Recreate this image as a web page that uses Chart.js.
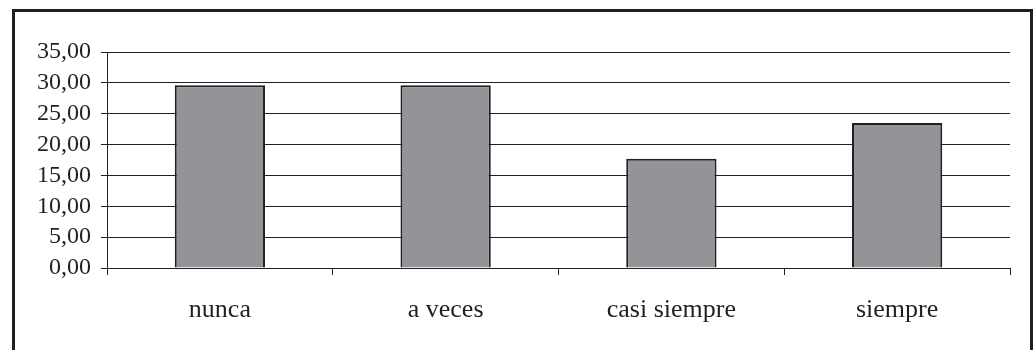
<!DOCTYPE html>
<html>
<head>
<meta charset="utf-8">
<script src="https://cdn.jsdelivr.net/npm/chart.js@4/dist/chart.umd.min.js"></script>
<style>
  html, body { margin: 0; padding: 0; background: #fff; }
  #frame {
    position: absolute; left: 12px; top: 9px; width: 1021px; height: 360px;
    border: 3px solid #231f20; box-sizing: border-box;
  }
  #wrap { position: absolute; left: 0; top: 0; width: 1035px; height: 350px; }
</style>
</head>
<body>
<div id="frame"></div>
<div id="wrap"><canvas id="c" width="1035" height="350"></canvas></div>
<script>
// Response categories and their percentages
const categories = ['nunca', 'a veces', 'casi siempre', 'siempre'];
const percentages = [29.6, 29.6, 17.7, 23.5];
const yTicks = [0, 5, 10, 15, 20, 25, 30, 35];

const ink = '#231f20';
const serif = '"Liberation Serif", "Times New Roman", serif';

new Chart(document.getElementById('c'), {
  type: 'bar',
  data: {
    labels: categories,
    datasets: [{
      data: percentages,
      backgroundColor: '#939498',
      borderColor: ink,
      borderWidth: 2,
      categoryPercentage: 0.8,
      barPercentage: 0.5
    }]
  },
  options: {
    responsive: false,
    animation: false,
    devicePixelRatio: 1,
    layout: { padding: { top: 52, right: 25, left: 0, bottom: 0 } },
    plugins: { legend: { display: false }, tooltip: { enabled: false } },
    scales: {
      x: {
        offset: true,
        grid: {
          offset: true,
          drawOnChartArea: false,
          drawTicks: true,
          tickLength: 7,
          color: ink,
          lineWidth: 1
        },
        border: { display: true, color: ink, width: 1 },
        ticks: {
          color: ink,
          padding: 20,
          maxRotation: 0,
          autoSkip: false,
          font: { family: serif, size: 26 }
        },
        afterFit: s => { s.height = 82; }
      },
      y: {
        min: 0,
        max: 35,
        afterBuildTicks: s => { s.ticks = yTicks.map(v => ({ value: v })); },
        grid: {
          color: ink,
          lineWidth: 1,
          drawTicks: true,
          tickLength: 6
        },
        border: { display: true, color: ink, width: 1 },
        ticks: {
          color: ink,
          padding: 10,
          autoSkip: false,
          font: { family: serif, size: 24 },
          callback: v => v.toFixed(2).replace('.', ',')
        },
        afterFit: s => { s.width = 107; }
      }
    }
  }
});
</script>
</body>
</html>
